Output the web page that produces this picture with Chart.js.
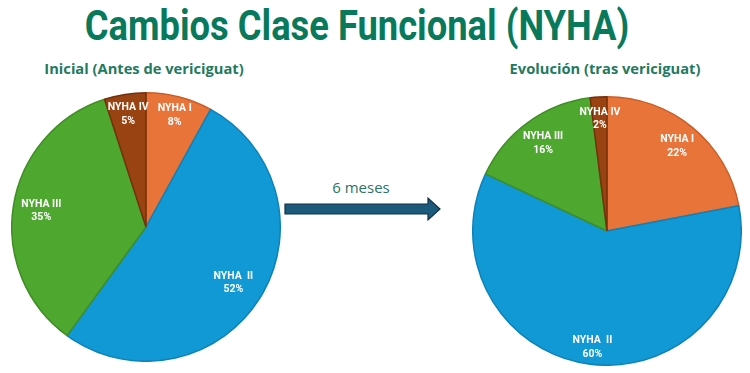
<!DOCTYPE html>
<html lang="es">
<head>
<meta charset="utf-8">
<title>Cambios Clase Funcional (NYHA)</title>
<script src="https://cdn.jsdelivr.net/npm/chart.js@4.4.1/dist/chart.umd.min.js"></script>
<style>
  html, body { margin: 0; padding: 0; background: #fff; }
  body { width: 750px; height: 373px; position: relative; overflow: hidden; font-family: Roboto, "Open Sans", sans-serif; }
  .title {
    position: absolute; left: 7px; width: 700px; top: 1px; text-align: center;
    font-family: Roboto, sans-serif; font-weight: 700; font-size: 42px;
    color: #087a5b; line-height: 50px; white-space: nowrap;
    transform: scaleX(0.865); transform-origin: 50% 50%;
  }
  .sub {
    position: absolute; top: 58px; width: 240px; text-align: center;
    font-family: "Open Sans", Roboto, sans-serif; font-weight: 700; font-size: 14.7px; color: #1f7a5e;
  }
  .pie-box { position: absolute; width: 270px; height: 270px; }
  .arrow-label { position: absolute; left: 321px; top: 177px; width: 80px; text-align: center;
    font-family: "Open Sans", sans-serif; font-size: 15px; color: #2a7565; }
  #arrow { position: absolute; left: 283px; top: 196px; }
</style>
</head>
<body>
  <div class="title">Cambios Clase Funcional (NYHA)</div>
  <div class="sub" style="left:24px">Inicial (Antes de vericiguat)</div>
  <div class="sub" style="left:485px">Evolución (tras vericiguat)</div>

  <div class="pie-box" style="left:11px; top:92px"><canvas id="pieBefore"></canvas></div>
  <div class="pie-box" style="left:472px; top:96px"><canvas id="pieAfter"></canvas></div>

  <div class="arrow-label">6 meses</div>
  <svg id="arrow" width="160" height="26" viewBox="0 0 160 26">
    <path d="M2 8 H145 V2 L157 13 L145 24 V18 H2 Z" fill="#1c5a7c" stroke="#0f3147" stroke-width="1.2"/>
  </svg>

<script>
const CLASSES = ["NYHA I", "NYHA  II", "NYHA III", "NYHA IV"];
const BEFORE = [8, 52, 35, 5];
const AFTER = [22, 60, 16, 2];

const FILLS = ["#e8743a", "#1199d6", "#4ea72e", "#9a4312"];
const EDGES = ["#c95d27", "#0d82b8", "#3f8e24", "#76300b"];

// white two-line labels placed along each slice's middle angle
const sliceLabels = {
  id: "sliceLabels",
  afterDatasetsDraw(chart, args, opts) {
    const ctx = chart.ctx;
    const meta = chart.getDatasetMeta(0);
    const values = chart.data.datasets[0].data;
    ctx.save();
    ctx.fillStyle = "#fff";
    ctx.textAlign = "center";
    ctx.textBaseline = "middle";
    ctx.font = "700 10.5px Roboto, 'Open Sans', sans-serif";
    meta.data.forEach((arc, i) => {
      const p = arc.getProps(["x", "y", "startAngle", "endAngle", "outerRadius"], true);
      const mid = (p.startAngle + p.endAngle) / 2;
      const r = p.outerRadius * opts.radius[i];
      const x = p.x + Math.cos(mid) * r;
      const y = p.y + Math.sin(mid) * r;
      ctx.fillText(chart.data.labels[i], x, y - 6.5);
      ctx.fillText(values[i] + "%", x, y + 7);
    });
    ctx.restore();
  },
};

document.addEventListener("DOMContentLoaded", () => {
  renderPie("pieBefore", BEFORE, [0.86, 0.77, 0.79, 0.85]);
  renderPie("pieAfter", AFTER, [0.82, 0.87, 0.81, 0.84]);
});

function renderPie(id, values, labelRadius) {
  const ctx = document.getElementById(id);
  if (!ctx || typeof Chart === "undefined") return;

  new Chart(ctx, {
    type: "pie",
    data: {
      labels: CLASSES,
      datasets: [
        {
          data: values,
          backgroundColor: FILLS,
          borderColor: EDGES,
          borderWidth: 1.5,
        },
      ],
    },
    options: {
      responsive: true,
      maintainAspectRatio: false,
      animation: false,
      layout: { padding: 0 },
      plugins: {
        legend: { display: false },
        tooltip: { enabled: false },
        sliceLabels: { radius: labelRadius },
      },
    },
    plugins: [sliceLabels],
  });
}
</script>
</body>
</html>
